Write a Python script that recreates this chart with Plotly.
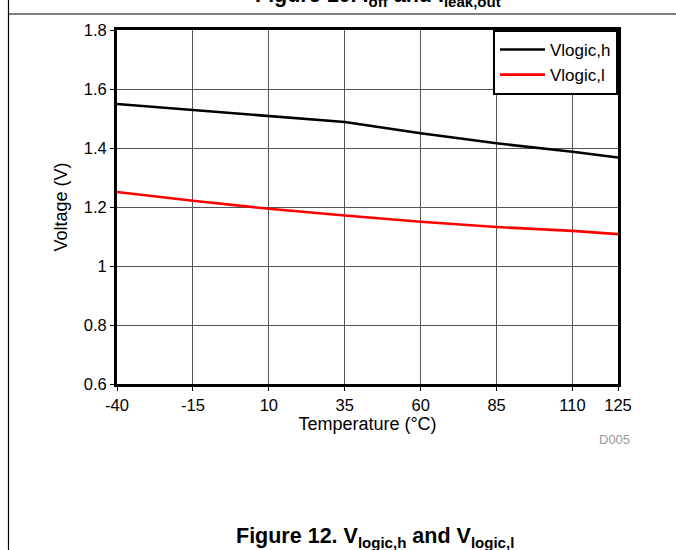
import plotly.graph_objects as go

temp = [-40, -15, 10, 25, 35, 60, 85, 110, 125]
vlogic_h = [1.549, 1.529, 1.509, 1.497, 1.488, 1.450, 1.416, 1.387, 1.368]
vlogic_l = [1.251, 1.221, 1.194, 1.179, 1.171, 1.150, 1.132, 1.119, 1.108]
x_ticks = [-40, -15, 10, 35, 60, 85, 110, 125]
y_ticks = [0.6, 0.8, 1.0, 1.2, 1.4, 1.6, 1.8]
y_tick_text = ["0.6", "0.8", "1", "1.2", "1.4", "1.6", "1.8"]

FONT = "Arial, Liberation Sans, sans-serif"
W, H = 676, 550
L, T = 117, 30
R = W - 618
B = H - 384
pw, ph = W - L - R, H - T - B


def px(x):  # page x -> paper
    return (x - L) / pw


def py(y):  # page y -> paper
    return (H - B - y) / ph


fig = go.Figure()
fig.add_trace(go.Scatter(x=temp, y=vlogic_h, mode="lines", name="Vlogic,h",
                         line=dict(color="black", width=2.6)))
fig.add_trace(go.Scatter(x=temp, y=vlogic_l, mode="lines", name="Vlogic,l",
                         line=dict(color="#ff0000", width=2.6)))

axis_common = dict(showgrid=True, gridcolor="#555555", gridwidth=1,
                   showline=True, linecolor="black", linewidth=3, mirror=True,
                   ticks="outside", ticklen=4, tickcolor="black", tickwidth=1,
                   zeroline=False, tickfont=dict(family=FONT, size=16.5, color="black"))

fig.update_xaxes(range=[-40, 125], tickvals=x_ticks, ticktext=[str(v) for v in x_ticks],
                 title=dict(text="Temperature (°C)", font=dict(family=FONT, size=18, color="black"),
                            standoff=3),
                 **axis_common)
fig.update_yaxes(range=[0.6, 1.8], tickvals=y_ticks, ticktext=y_tick_text,
                 title=dict(text="Voltage (V)", font=dict(family=FONT, size=18, color="black"),
                            standoff=12),
                 **axis_common)

fig.update_layout(
    width=W, height=H,
    margin=dict(l=L, r=R, t=T, b=B),
    paper_bgcolor="white", plot_bgcolor="white",
    showlegend=True,
    legend=dict(x=1, xanchor="right", y=1, yanchor="top",
                bgcolor="white", bordercolor="black", borderwidth=2,
                font=dict(family=FONT, size=17, color="black"),
                tracegroupgap=0, itemwidth=45),
    font=dict(family=FONT),
    shapes=[
        dict(type="line", xref="paper", yref="paper", x0=px(8.5), x1=px(676), y0=py(14), y1=py(14),
             line=dict(color="black", width=1.2)),
        dict(type="line", xref="paper", yref="paper", x0=px(8.5), x1=px(8.5), y0=py(0), y1=py(550),
             line=dict(color="black", width=1.2)),
    ],
    annotations=[
        dict(text="D005", xref="paper", yref="paper", x=px(632), y=py(439), xanchor="right",
             yanchor="middle", showarrow=False, font=dict(family=FONT, size=13, color="#999999")),
        dict(text="<b>Figure 12. V<sub>logic,h</sub> and V<sub>logic,l</sub></b>", xref="paper", yref="paper",
             x=px(375), y=py(537), xanchor="center", yanchor="middle", showarrow=False,
             font=dict(family=FONT, size=21.5, color="black")),
        dict(text="<b>Figure 10. I<sub>off</sub> and I<sub>leak,out</sub></b>", xref="paper", yref="paper",
             x=px(378), y=py(-4), xanchor="center", yanchor="middle", showarrow=False,
             font=dict(family=FONT, size=21.5, color="black")),
    ],
)

fig.write_html("out.html", config={"displayModeBar": False},
               post_script="document.body.style.margin='0';")
